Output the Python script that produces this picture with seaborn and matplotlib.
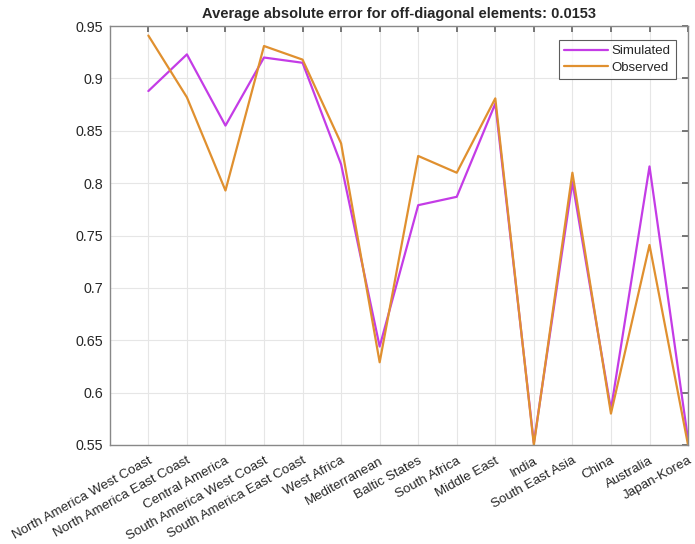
import matplotlib
matplotlib.use("Agg")
import matplotlib.pyplot as plt
import pandas as pd
import seaborn as sns
from matplotlib.ticker import FuncFormatter

regions = [
    "North America West Coast", "North America East Coast", "Central America",
    "South America West Coast", "South America East Coast", "West Africa",
    "Mediterranean", "Baltic States", "South Africa", "Middle East", "India",
    "South East Asia", "China", "Australia", "Japan-Korea",
]
simulated = [0.888, 0.923, 0.855, 0.920, 0.915, 0.818, 0.644, 0.779, 0.787,
             0.876, 0.552, 0.801, 0.584, 0.816, 0.555]
observed = [0.941, 0.882, 0.793, 0.931, 0.918, 0.838, 0.629, 0.826, 0.810,
            0.881, 0.550, 0.810, 0.580, 0.741, 0.550]
yticks = [0.55, 0.6, 0.65, 0.7, 0.75, 0.8, 0.85, 0.9, 0.95]

sns.set_theme(style="white")
plt.rcParams["font.family"] = ["Liberation Sans", "DejaVu Sans"]

idx = list(range(1, len(regions) + 1))
df = pd.DataFrame({
    "pos": idx * 2,
    "value": simulated + observed,
    "series": ["Simulated"] * len(idx) + ["Observed"] * len(idx),
})

fig = plt.figure(figsize=(6.95, 5.44), dpi=100)
ax = fig.add_axes([0.158, 0.182, 0.832, 0.770])
sns.lineplot(data=df, x="pos", y="value", hue="series", ax=ax,
             palette={"Simulated": "#C43CE6", "Observed": "#E0902F"},
             linewidth=1.6, sort=False)

ax.set_xlim(0, 15)
ax.set_ylim(0.55, 0.95)
ax.set_xticks(idx)
ax.set_xticklabels(regions, rotation=29, ha="right", rotation_mode="anchor", fontsize=9.6)
ax.set_yticks(yticks)
ax.yaxis.set_major_formatter(FuncFormatter(lambda v, _: f"{v:.2f}".rstrip("0")))
ax.tick_params(axis="y", labelsize=10.3)
ax.tick_params(direction="in", length=4, top=True, right=True, color="#666666", pad=5)
ax.tick_params(axis="x", pad=7)
ax.grid(True, color="#e6e6e6", linewidth=0.8)
for s in ax.spines.values():
    s.set_color("#888888")
    s.set_linewidth(1.0)
ax.set_xlabel("")
ax.set_ylabel("")
ax.set_title("Average absolute error for off-diagonal elements: 0.0153",
             fontsize=10.5, fontweight="bold", pad=6)

leg = ax.legend(loc="upper right", bbox_to_anchor=(0.979, 0.967), borderaxespad=0,
                fontsize=9.5, frameon=True, fancybox=False, edgecolor="#333333",
                handlelength=3.3, borderpad=0.4, labelspacing=0.3, handletextpad=0.3)
leg.get_frame().set_linewidth(0.8)

fig.savefig("out.png", dpi=100)
